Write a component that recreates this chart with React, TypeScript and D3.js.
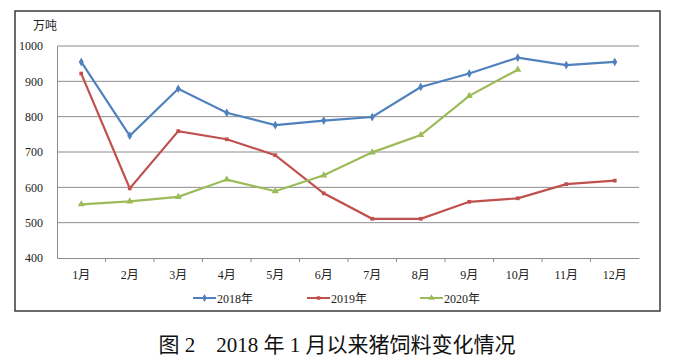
import React, { useEffect, useRef } from "react";
import * as d3 from "d3";

const months = ["1月", "2月", "3月", "4月", "5月", "6月", "7月", "8月", "9月", "10月", "11月", "12月"];
const yTicks = [400, 500, 600, 700, 800, 900, 1000];
const s2018 = [955, 746, 879, 811, 776, 789, 799, 884, 922, 967, 946, 955];
const s2019 = [922, 597, 759, 736, 691, 583, 511, 511, 559, 569, 609, 619];
const s2020 = [552, 560, 573, 622, 589, 634, 699, 748, 859, 933];
const seriesNames = ["2018年", "2019年", "2020年"];
const colors = ["#4f81bd", "#c0504d", "#9bbb59"];
const markers = [d3.symbolDiamond, d3.symbolSquare, d3.symbolTriangle];

const FONT = "'Liberation Serif', 'Noto Sans CJK SC', serif";

export default function App() {
  const ref = useRef<SVGSVGElement>(null);

  useEffect(() => {
    const svg = d3.select(ref.current);
    svg.selectAll("*").remove();

    const left = 57, right = 639;

    const x = d3.scaleBand().domain(months).range([left, right]);
    const y = d3.scaleLinear().domain([400, 1000]).range([258, 46]);

    // outer frame
    svg.append("rect").attr("x", 15).attr("y", 11).attr("width", 645).attr("height", 300)
      .attr("fill", "#fff").attr("stroke", "#3a3a3a").attr("stroke-width", 1.5);

    svg.append("text").attr("x", 33).attr("y", 30).attr("font-family", FONT)
      .attr("font-size", 12).attr("fill", "#222").text("万吨");

    // gridlines
    svg.append("g").selectAll("line").data(yTicks.slice(1)).join("line")
      .attr("x1", left).attr("x2", right)
      .attr("y1", (d) => y(d)).attr("y2", (d) => y(d))
      .attr("stroke", "#8c8c8c").attr("stroke-width", 1);

    // y axis
    const ya = svg.append("g").attr("transform", `translate(${left},0)`)
      .call(d3.axisLeft(y).tickValues(yTicks).tickFormat(d3.format("d")).tickSize(0).tickPadding(14));
    ya.select(".domain").attr("stroke", "#8c8c8c");
    ya.selectAll("text").attr("font-family", FONT).attr("font-size", 12).attr("fill", "#222");

    // x axis
    const xa = svg.append("g").attr("transform", `translate(0,${y(400)})`)
      .call(d3.axisBottom(x).tickSize(0).tickPadding(10));
    xa.select(".domain").attr("stroke", "#8c8c8c");
    xa.selectAll("text").attr("font-family", FONT).attr("font-size", 12).attr("fill", "#222").attr("dy", "0.9em");
    svg.append("g").selectAll("line").data(months.slice(1)).join("line")
      .attr("x1", (d) => x(d)!).attr("x2", (d) => x(d)!)
      .attr("y1", y(400)).attr("y2", y(400) + 4)
      .attr("stroke", "#8c8c8c");

    const cx = (i: number) => x(months[i])! + x.bandwidth() / 2;
    const line = d3.line<number>().x((d, i) => cx(i)).y((d) => y(d));

    [s2018, s2019, s2020].forEach((s, k) => {
      svg.append("path").datum(s).attr("d", line).attr("fill", "none")
        .attr("stroke", colors[k]).attr("stroke-width", 2.2);
      svg.append("g").selectAll("path").data(s).join("path")
        .attr("transform", (d, i) => `translate(${cx(i)},${y(d)})`)
        .attr("d", d3.symbol(markers[k], k === 1 ? 14 : 22)())
        .attr("fill", colors[k]);
    });

    // legend
    const lx = [193, 307, 420];
    seriesNames.forEach((n, k) => {
      const g = svg.append("g").attr("transform", `translate(${lx[k]},298)`);
      g.append("line").attr("x1", 0).attr("x2", 23).attr("stroke", colors[k]).attr("stroke-width", 2);
      g.append("path").attr("transform", "translate(11.5,0)")
        .attr("d", d3.symbol(markers[k], k === 1 ? 12 : 18)()).attr("fill", colors[k]);
      g.append("text").attr("x", 24).attr("y", 4.5).attr("font-family", FONT)
        .attr("font-size", 12).attr("fill", "#222").text(n);
    });

    // caption
    svg.append("text").attr("x", 337).attr("y", 352).attr("text-anchor", "middle")
      .attr("font-family", FONT).attr("font-size", 21).attr("fill", "#111")
      .attr("xml:space", "preserve").text("图 2　2018 年 1 月以来猪饲料变化情况");
  }, []);

  return (
    <svg ref={ref} width={677} height={358}
      style={{ position: "absolute", left: 0, top: 0, background: "#fff" }} />
  );
}
